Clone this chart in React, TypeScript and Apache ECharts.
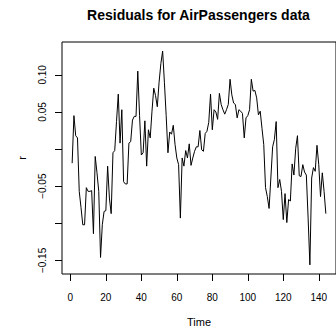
import React, { useEffect, useRef } from "react";
import * as echarts from "echarts";

const titleText = "Residuals for AirPassengers data";
const xName = "Time";
const yName = "r";
const xTicks = [0, 20, 40, 60, 80, 100, 120, 140];
const yTicks = [-0.15, -0.1, -0.05, 0, 0.05, 0.1];
const yLabelTicks = [-0.15, -0.05, 0.05, 0.1];

const residuals = [
  -0.019, 0.045, 0.018, 0.015, -0.057, -0.079, -0.102, -0.102, -0.052, -0.057,
  -0.057, -0.056, -0.114, -0.010, -0.032, -0.057, -0.146, -0.102, -0.084, -0.083,
  -0.023, -0.066, -0.087, -0.005, -0.002, 0.037, 0.074, 0.008, 0.053, -0.044,
  -0.047, -0.047, 0.008, 0.010, 0.039, 0.044, 0.044, 0.105, 0.045, -0.008,
  -0.005, 0.038, -0.023, 0.026, 0.015, 0.051, 0.082, 0.072, 0.057, 0.090,
  0.115, 0.132, 0.090, 0.045, -0.005, 0.023, 0.020, 0.032, 0.006, -0.012,
  -0.021, -0.093, -0.012, -0.023, -0.002, -0.012, 0.007, -0.022, -0.012, -0.003,
  0.003, 0.003, 0.025, -0.001, -0.003, 0.021, 0.024, 0.036, 0.074, 0.026,
  0.053, 0.050, 0.040, 0.075, 0.060, 0.053, 0.047, 0.053, 0.060, 0.094,
  0.073, 0.062, 0.060, 0.042, 0.053, 0.051, 0.048, 0.015, 0.042, 0.045,
  0.053, 0.094, 0.078, 0.079, 0.069, 0.046, 0.051, 0.028, 0.006, -0.052,
  -0.064, -0.080, -0.039, 0.003, 0.013, 0.037, -0.052, -0.041, -0.057, -0.095,
  -0.060, -0.099, -0.068, -0.070, -0.020, -0.035, 0.001, 0.018, -0.036, -0.037,
  -0.021, -0.031, -0.035, -0.093, -0.156, -0.039, -0.025, -0.030, 0.005, -0.021,
  -0.064, -0.032, -0.057, -0.087,
];

const FONT = "'Liberation Sans', Arial, Helvetica, sans-serif";

export default function App() {
  const ref = useRef<HTMLDivElement>(null);
  useEffect(() => {
    if (!ref.current) return;
    const chart = echarts.init(ref.current, null, { renderer: "svg" });
    const n = residuals.length;
    const xPad = (n - 1) * 0.04;
    const data = residuals.map((v, i) => [i + 1, v]);
    chart.setOption({
      animation: false,
      backgroundColor: "#ffffff",
      title: {
        text: titleText,
        left: 193.5,
        textAlign: "center",
        top: 3,
        textStyle: { fontFamily: FONT, fontSize: 14, fontWeight: "bold", color: "#000" },
      },
      grid: {
        left: 62,
        top: 42,
        width: 276,
        height: 232.5,
        show: true,
        borderColor: "#000",
        borderWidth: 1,
        backgroundColor: "transparent",
      },
      xAxis: {
        type: "value",
        min: 1 - xPad,
        max: n + xPad,
        name: xName,
        nameLocation: "middle",
        nameGap: 42,
        nameTextStyle: { fontFamily: FONT, fontSize: 11, color: "#000" },
        axisLine: { show: false, onZero: false },
        splitLine: { show: false },
        axisTick: {
          show: true,
          inside: false,
          length: 7,
          customValues: xTicks,
          lineStyle: { color: "#000", width: 1 },
        },
        axisLabel: {
          customValues: xTicks,
          margin: 18,
          fontFamily: FONT,
          fontSize: 10,
          color: "#000",
        },
      },
      yAxis: {
        type: "value",
        min: -0.1683,
        max: 0.1442,
        name: yName,
        nameLocation: "middle",
        nameGap: 35,
        nameRotate: 90,
        nameTextStyle: { fontFamily: FONT, fontSize: 11, color: "#000" },
        axisLine: { show: false, onZero: false },
        splitLine: { show: false },
        axisTick: {
          show: true,
          inside: false,
          length: 7,
          customValues: yTicks,
          lineStyle: { color: "#000", width: 1 },
        },
        axisLabel: {
          customValues: yLabelTicks,
          rotate: 90,
          margin: 15,
          fontFamily: FONT,
          fontSize: 10,
          color: "#000",
          formatter: (v: number) => v.toFixed(2).replace("-", "\u2212"),
        },
      },
      series: [
        {
          type: "line",
          data,
          symbol: "none",
          lineStyle: { color: "#000", width: 1 },
          silent: true,
        },
      ],
    });
    return () => chart.dispose();
  }, []);
  return (
    <div
      ref={ref}
      style={{ position: "fixed", left: 0, top: 0, width: 336, height: 332, background: "#fff" }}
    />
  );
}
